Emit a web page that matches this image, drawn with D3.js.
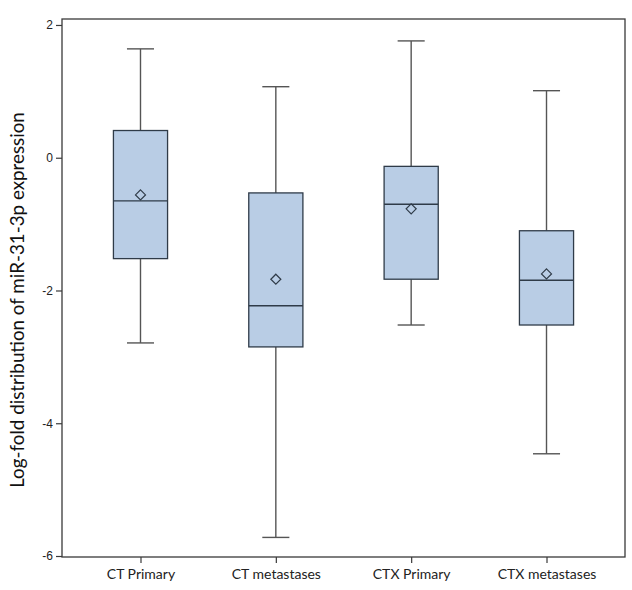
<!DOCTYPE html>
<html>
<head>
<meta charset="utf-8">
<script src="https://cdn.jsdelivr.net/npm/d3@7/dist/d3.min.js"></script>
<style>
  html, body { margin: 0; padding: 0; background: #fff; }
  svg { display: block; }
</style>
</head>
<body>
<svg id="chart" width="632" height="590"></svg>
<script>
// Data
const categories = ["CT Primary", "CT metastases", "CTX Primary", "CTX metastases"];
const whiskerLow  = [-2.79, -5.72, -2.52, -4.46];
const q1          = [-1.52, -2.85, -1.83, -2.52];
const medians     = [-0.65, -2.23, -0.70, -1.845];
const q3          = [ 0.41, -0.53, -0.13, -1.10];
const whiskerHigh = [ 1.64,  1.07,  1.76,  1.01];
const means       = [-0.56, -1.83, -0.77, -1.75];
const yTicks      = [-6, -4, -2, 0, 2];
const yLabel      = "Log-fold distribution of miR-31-3p expression";

(function () {
const rows = categories.map((c, i) => ({
  cat: c, lo: whiskerLow[i], q1: q1[i], med: medians[i], q3: q3[i], hi: whiskerHigh[i], mean: means[i]
}));

const svg = d3.select("#chart");
const mLeft = 62, mRight = 625, mTop = 19, mBottom = 557;

const x = d3.scalePoint().domain(categories).range([mLeft, mRight]).padding(0.58);
const y = d3.scaleLinear().domain([-6.015, 2.09]).range([mBottom, mTop]);

const boxW = x.step() * 0.40;
const capW = boxW / 2;

// Frame
svg.append("rect")
  .attr("x", mLeft).attr("y", mTop)
  .attr("width", mRight - mLeft).attr("height", mBottom - mTop)
  .attr("fill", "none").attr("stroke", "#3a3a3a").attr("stroke-width", 1.3);

// Y axis
const yAxis = svg.append("g")
  .attr("transform", `translate(${mLeft},0)`)
  .call(d3.axisLeft(y).tickValues(yTicks).tickSize(6).tickPadding(3).tickFormat(d => String(d)));
yAxis.select(".domain").remove();
yAxis.selectAll("line").attr("stroke", "#3a3a3a").attr("stroke-width", 1.2);
yAxis.selectAll("text").attr("font-family", "Liberation Sans, Arial, sans-serif")
  .attr("font-size", 12).attr("fill", "#222");

// X axis
const xAxis = svg.append("g")
  .attr("transform", `translate(0,${mBottom})`)
  .call(d3.axisBottom(x).tickSize(6).tickPadding(6));
xAxis.select(".domain").remove();
xAxis.selectAll("line").attr("stroke", "#3a3a3a").attr("stroke-width", 1.2);
xAxis.selectAll("text").attr("font-family", "Lato, 'Open Sans', sans-serif")
  .attr("font-size", 14).attr("fill", "#222");

// Y label
svg.append("text")
  .attr("transform", `translate(24,${(mTop + mBottom) / 2 + 12}) rotate(-90)`)
  .attr("text-anchor", "middle")
  .attr("font-family", "Lato, 'Open Sans', sans-serif")
  .attr("font-size", 18.8)
  .attr("fill", "#111")
  .text(yLabel);

const g = svg.append("g");
const box = g.selectAll("g.box").data(rows).join("g").attr("class", "box");

// whiskers
box.append("line")
  .attr("x1", d => x(d.cat)).attr("x2", d => x(d.cat))
  .attr("y1", d => y(d.hi)).attr("y2", d => y(d.q3))
  .attr("stroke", "#555").attr("stroke-width", 1.4);
box.append("line")
  .attr("x1", d => x(d.cat)).attr("x2", d => x(d.cat))
  .attr("y1", d => y(d.q1)).attr("y2", d => y(d.lo))
  .attr("stroke", "#555").attr("stroke-width", 1.4);
// caps
box.append("line")
  .attr("x1", d => x(d.cat) - capW / 2).attr("x2", d => x(d.cat) + capW / 2)
  .attr("y1", d => y(d.hi)).attr("y2", d => y(d.hi))
  .attr("stroke", "#555").attr("stroke-width", 1.4);
box.append("line")
  .attr("x1", d => x(d.cat) - capW / 2).attr("x2", d => x(d.cat) + capW / 2)
  .attr("y1", d => y(d.lo)).attr("y2", d => y(d.lo))
  .attr("stroke", "#555").attr("stroke-width", 1.4);
// box
box.append("rect")
  .attr("x", d => x(d.cat) - boxW / 2)
  .attr("width", boxW)
  .attr("y", d => y(d.q3))
  .attr("height", d => y(d.q1) - y(d.q3))
  .attr("fill", "#b9cde5").attr("stroke", "#2f3b48").attr("stroke-width", 1.3);
// median
box.append("line")
  .attr("x1", d => x(d.cat) - boxW / 2).attr("x2", d => x(d.cat) + boxW / 2)
  .attr("y1", d => y(d.med)).attr("y2", d => y(d.med))
  .attr("stroke", "#2f3b48").attr("stroke-width", 1.4);
// mean diamond
const ds = 5;
box.append("path")
  .attr("d", d => {
    const cx = x(d.cat), cy = y(d.mean);
    return `M${cx},${cy - ds}L${cx + ds},${cy}L${cx},${cy + ds}L${cx - ds},${cy}Z`;
  })
  .attr("fill", "none").attr("stroke", "#2f3b48").attr("stroke-width", 1.2);
})();
</script>
</body>
</html>
